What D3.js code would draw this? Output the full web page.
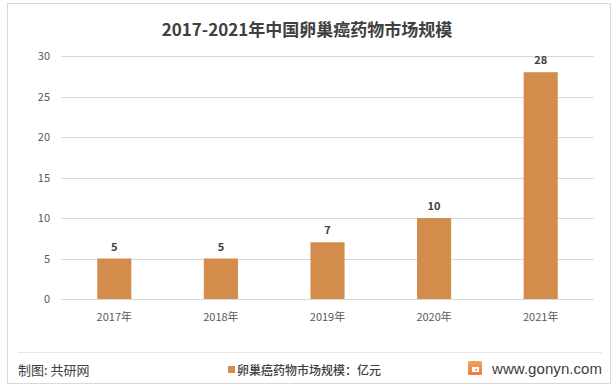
<!DOCTYPE html>
<html>
<head>
<meta charset="utf-8">
<script src="https://d3js.org/d3.v7.min.js"></script>
<style>
  body { margin: 0; background: #fff; }
  text { font-family: "Noto Sans CJK SC", "Microsoft YaHei", sans-serif; }
</style>
</head>
<body>
<script>
var years = ["2017年", "2018年", "2019年", "2020年", "2021年"];
var values = [5, 5, 7, 10, 28];
var yTicks = [0, 5, 10, 15, 20, 25, 30];
var title = "2017-2021年中国卵巢癌药物市场规模";
var seriesName = "卵巢癌药物市场规模：亿元";

var width = 614, height = 390;
var svg = d3.select("body").append("svg")
    .attr("width", width)
    .attr("height", height);

// outer frame
svg.append("rect")
    .attr("x", 7.5).attr("y", 3.5)
    .attr("width", 603).attr("height", 380)
    .attr("fill", "#fff").attr("stroke", "#d9d9d9");

svg.append("text")
    .attr("x", 307).attr("y", 36)
    .attr("text-anchor", "middle")
    .attr("font-size", 17).attr("font-weight", "bold")
    .attr("fill", "#404040")
    .text(title);

var x = d3.scaleBand().domain(years).range([61, 594]).paddingInner(0.68).paddingOuter(0.34);
var y = d3.scaleLinear().domain([0, 30]).range([299, 56]);

var grid = svg.append("g");
grid.selectAll("line").data(yTicks).enter().append("line")
    .attr("x1", 61).attr("x2", 594)
    .attr("y1", function(d) { return Math.round(y(d)) + 0.5; })
    .attr("y2", function(d) { return Math.round(y(d)) + 0.5; })
    .attr("stroke", "#d9d9d9");

var yAxis = svg.append("g").attr("transform", "translate(61,0)")
    .call(d3.axisLeft(y).tickValues(yTicks).tickSize(0).tickPadding(11));
yAxis.select(".domain").remove();
yAxis.selectAll("text").attr("font-size", 11).attr("fill", "#595959")
    .style("font-family", "'Noto Sans CJK SC', sans-serif");

svg.selectAll("rect.bar").data(values).enter().append("rect")
    .attr("class", "bar")
    .attr("x", function(d, i) { return x(years[i]); })
    .attr("y", function(d) { return y(d); })
    .attr("width", x.bandwidth())
    .attr("height", function(d) { return y(0) - y(d); })
    .attr("fill", "#d48c4c");

svg.selectAll("text.val").data(values).enter().append("text")
    .attr("class", "val")
    .attr("x", function(d, i) { return x(years[i]) + x.bandwidth() / 2; })
    .attr("y", function(d) { return y(d) - 8; })
    .attr("text-anchor", "middle")
    .attr("font-size", 11).attr("font-weight", "bold")
    .attr("fill", "#404040")
    .text(function(d) { return d; });

var xAxis = svg.append("g").attr("transform", "translate(0,299)")
    .call(d3.axisBottom(x).tickSize(0).tickPadding(14));
xAxis.select(".domain").remove();
xAxis.selectAll("text").attr("font-size", 11).attr("fill", "#595959")
    .style("font-family", "'Noto Sans CJK SC', sans-serif");

// footer
svg.append("line")
    .attr("x1", 18).attr("x2", 602).attr("y1", 352.5).attr("y2", 352.5)
    .attr("stroke", "#e6e6e6");

svg.append("text")
    .attr("x", 18).attr("y", 375)
    .attr("font-size", 13).attr("fill", "#404040")
    .text("制图: 共研网");

svg.append("rect")
    .attr("x", 228).attr("y", 366).attr("width", 7).attr("height", 7)
    .attr("fill", "#d48c4c");
svg.append("text")
    .attr("x", 237).attr("y", 375)
    .attr("font-size", 12).attr("font-weight", 500).attr("fill", "#404040")
    .text(seriesName);

// logo
var grad = svg.append("defs").append("linearGradient")
    .attr("id", "lg").attr("x1", 0).attr("y1", 0).attr("x2", 0).attr("y2", 1);
grad.append("stop").attr("offset", 0).attr("stop-color", "#f4a261");
grad.append("stop").attr("offset", 1).attr("stop-color", "#ec7a3a");
var logo = svg.append("g").attr("transform", "translate(468,361)");
logo.append("rect").attr("width", 14).attr("height", 14).attr("rx", 1.5).attr("fill", "url(#lg)");
logo.append("path").attr("d", "M4,6 H11 V11 H4 Z M7,8 H9 V9.5 H7 Z").attr("fill", "#fff").attr("fill-rule", "evenodd");
svg.append("text")
    .attr("x", 492).attr("y", 374)
    .attr("font-size", 15).attr("fill", "#404040")
    .attr("textLength", 110)
    .style("font-family", "Arial, 'Liberation Sans', sans-serif")
    .text("www.gonyn.com");
</script>
</body>
</html>
